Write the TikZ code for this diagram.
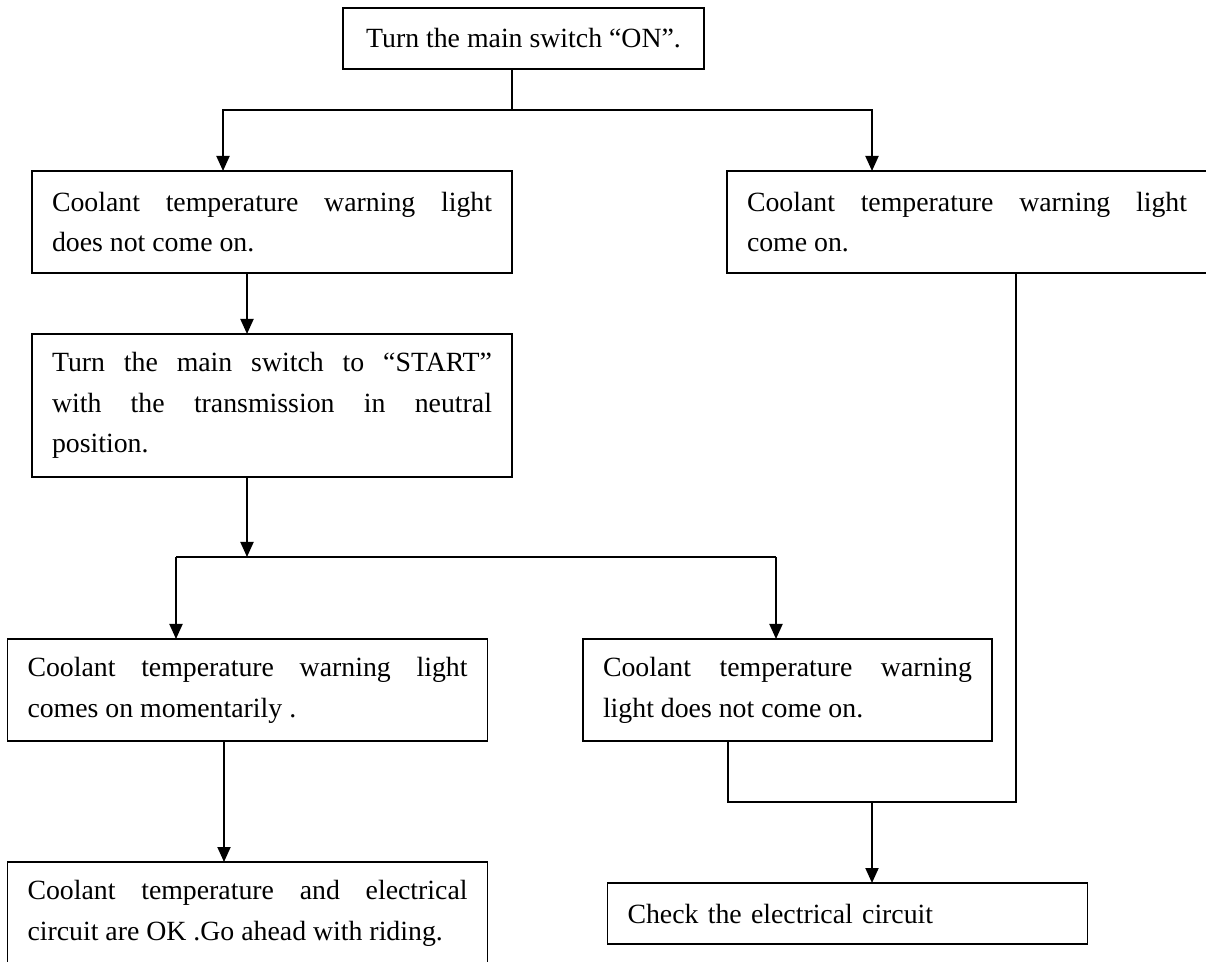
\documentclass[tikz,border=0pt]{standalone}
\usepackage{fontspec}
\setmainfont{Liberation Serif}
\usetikzlibrary{arrows.meta}
\tolerance=10000
\hbadness=10000
\hyphenpenalty=10000

\begin{document}
\begin{tikzpicture}[x=0.5pt, y=-0.5pt,
      stepbox/.style={draw, line width=0.95pt, outer sep=0pt, inner xsep=10pt, inner ysep=0pt,
        text width=220pt, align=justify, minimum height=51pt,
        font=\fontsize{13.9pt}{20.4pt}\selectfont},
      arr/.style={line width=0.95pt, -{Triangle[length=7.5pt, width=6.5pt]}},
      link/.style={line width=0.95pt}]
    \useasboundingbox (0,0) rectangle (1206,962);
    \clip (0,0) rectangle (1206,962);
    % boxes
    \node[stepbox, text width=, align=center, minimum width=180.5pt, minimum height=30.5pt,
      inner xsep=0pt] (top) at (523.5,38.5) {Turn the main switch “ON”.};
    \node[stepbox] (A) at (272,222)
      {Coolant temperature warning light\linebreak does not come on.};
    \node[stepbox] (B) at (967,222)
      {Coolant temperature warning light\linebreak come on.};
    \node[stepbox, minimum height=71.5pt] (C) at (272,405.5)
      {Turn the main switch to “START”\linebreak with the transmission in neutral\linebreak position.};
    \node[stepbox] (D) at (247.5,690)
      {Coolant temperature warning light\linebreak comes on momentarily .};
    \node[stepbox, text width=184.5pt] (E) at (787.5,690)
      {Coolant temperature warning\linebreak light does not come on.};
    \node[stepbox] (F) at (247.5,913)
      {Coolant temperature and electrical\linebreak circuit are OK .Go ahead with riding.};
    \node[stepbox, align=left, minimum height=30.5pt] (G) at (847.5,913.5)
      {Check the electrical circuit};
    % first split
    \coordinate (j1) at (512,110);
    \coordinate (j1l) at (223,110);
    \coordinate (j1r) at (872,110);
    \draw[link] (top.south -| j1) -- (j1);
    \draw[arr] (j1) -| (A.north -| j1l);
    \draw[arr] (j1) -| (B.north -| j1r);
    % left column
    \coordinate (ac) at (247,300);
    \draw[arr] (A.south -| ac) -- (C.north -| ac);
    % second split
    \coordinate (j2) at (247,557);
    \coordinate (j2l) at (176,557);
    \coordinate (j2r) at (776,557);
    \draw[arr] (C.south -| j2) -- (j2);
    \draw[link] (j2l) -- (j2r);
    \draw[arr] (j2l) -- (D.north -| j2l);
    \draw[arr] (j2r) -- (E.north -| j2r);
    \coordinate (df) at (224,800);
    \draw[arr] (D.south -| df) -- (F.north -| df);
    % merge
    \coordinate (m1) at (728,802);
    \coordinate (m2) at (1016,802);
    \coordinate (m3) at (872,802);
    \draw[link] (E.south -| m1) -- (m1) -- (m2) -- (B.south -| m2);
    \draw[arr] (m3) -- (G.north -| m3);
\end{tikzpicture}
\end{document}
